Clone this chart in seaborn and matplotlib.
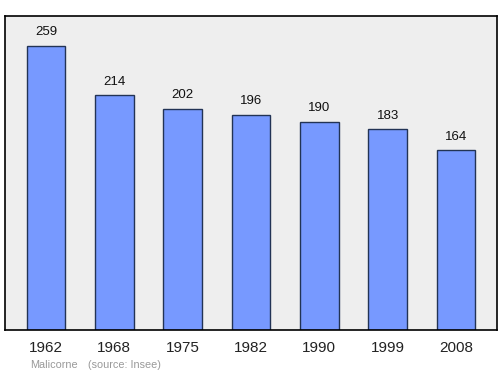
import matplotlib
matplotlib.use("Agg")
import matplotlib.pyplot as plt
import seaborn as sns
import pandas as pd

years = ["1962", "1968", "1975", "1982", "1990", "1999", "2008"]
population = [259, 214, 202, 196, 190, 183, 164]
commune = "Malicorne"
source = "(source: Insee)"

df = pd.DataFrame({"year": years, "pop": population})

sns.set_theme(style="white")
plt.rcParams['font.family'] = ['Liberation Sans', 'DejaVu Sans']

fig = plt.figure(figsize=(5, 3.74), dpi=100)
ax = fig.add_axes([5/500, 1 - 330/374, 492/500, 314/374])
ax.set_facecolor("#eeeeee")
sns.barplot(data=df, x="year", y="pop", ax=ax, color="#7799ff", saturation=1,
            width=0.57, edgecolor="#223355", linewidth=1)
ax.set_xlim(-0.6, 6.6)
ax.set_ylim(0, 286.4)
ax.set_yticks([])
ax.set_xlabel("")
ax.set_ylabel("")
for s in ax.spines.values():
    s.set_visible(True)
    s.set_color("black")
    s.set_linewidth(1.2)
ax.tick_params(axis="x", length=0, labelsize=11, pad=8, colors="#222222")
for i, v in enumerate(population):
    ax.annotate(str(v), (i, v), xytext=(0, 5.5), textcoords="offset points",
                ha="center", va="bottom", fontsize=9.5, color="#111111")
fig.text(30/500, 1 - 365/374, commune, fontsize=7.8, color="#999999", ha="left", va="center")
fig.text(88/500, 1 - 365/374, source, fontsize=7.8, color="#999999", ha="left", va="center")
fig.savefig("out.png", dpi=100)
